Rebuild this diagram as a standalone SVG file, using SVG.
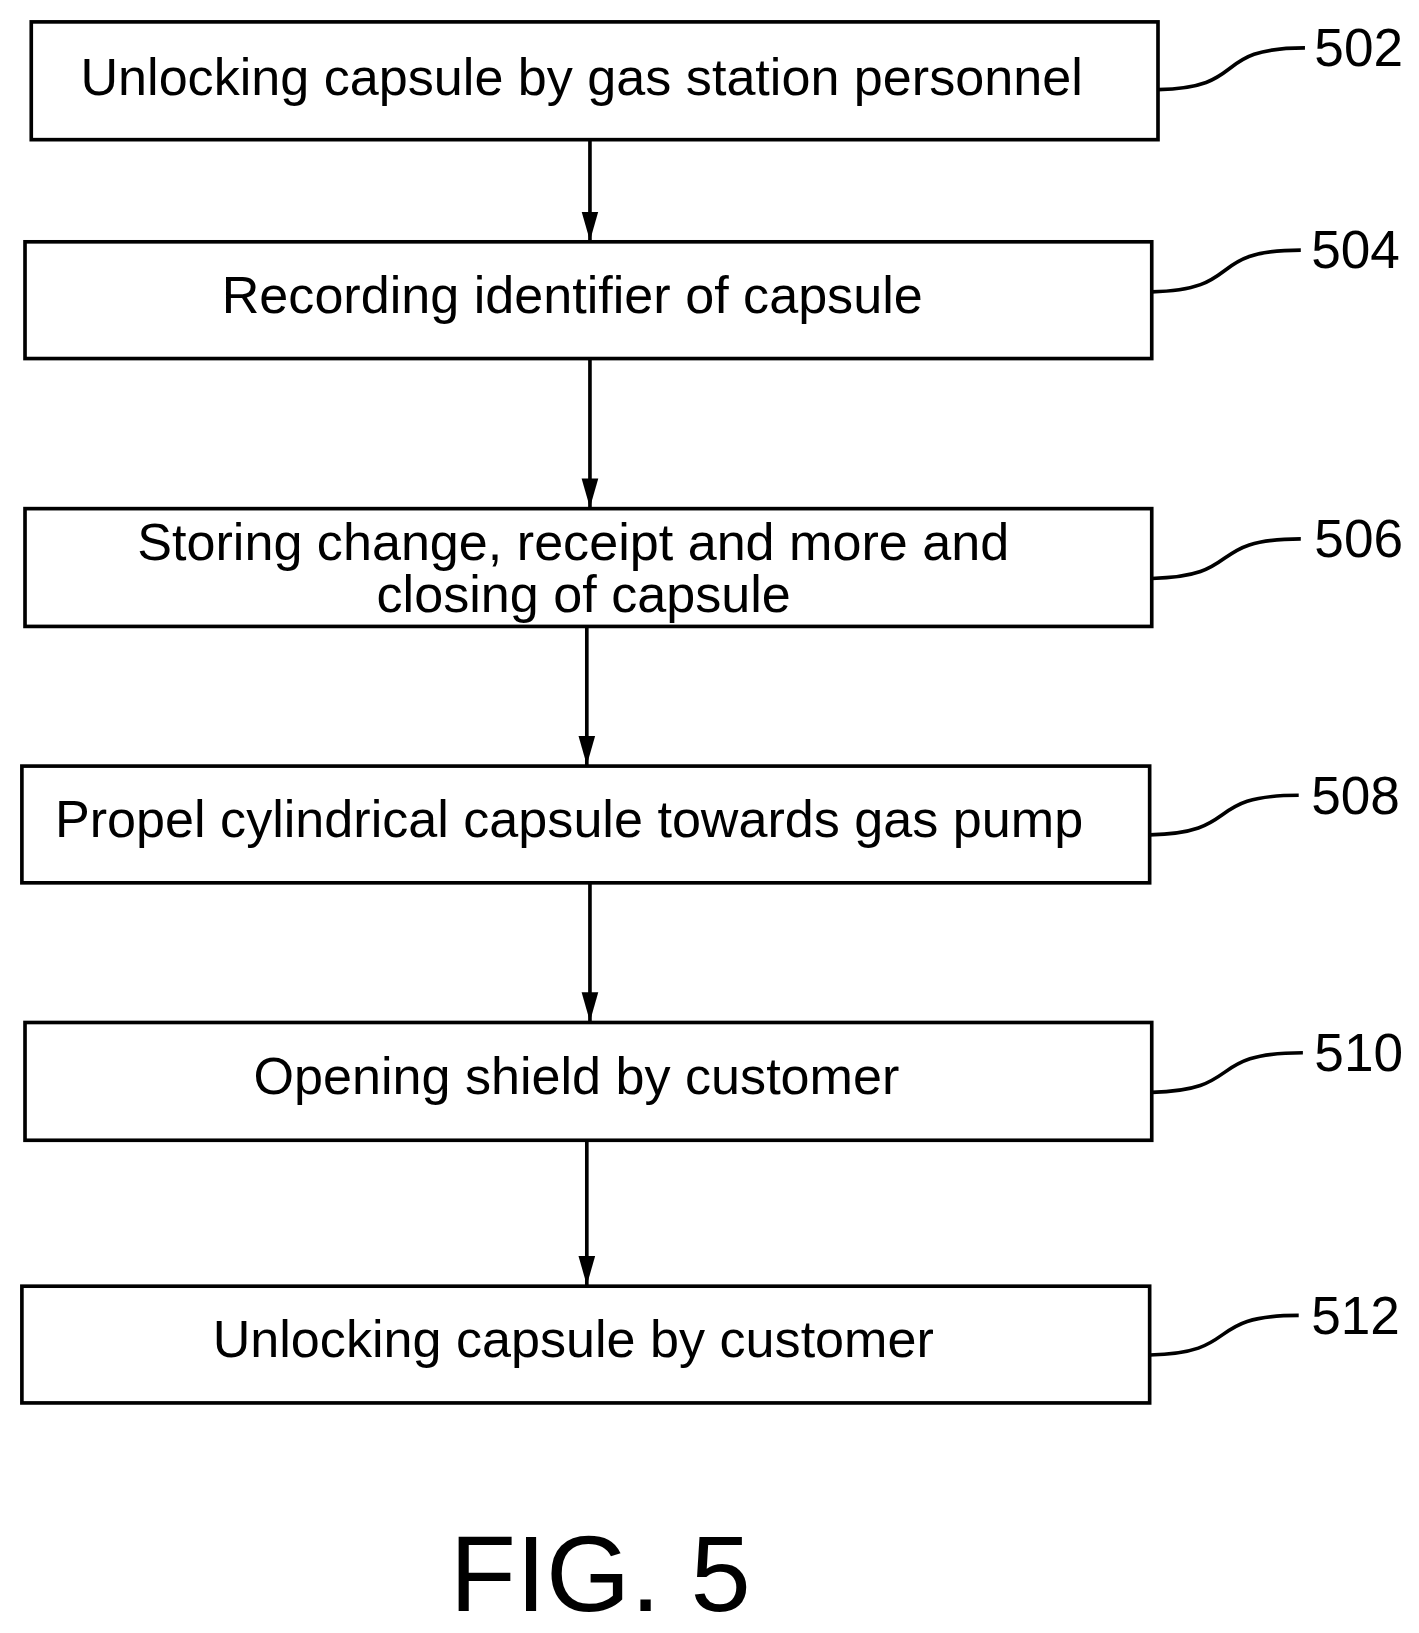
<svg xmlns="http://www.w3.org/2000/svg" width="1419" height="1633" viewBox="0 0 1419 1633">
<style>
.b{fill:#fff;stroke:#000;stroke-width:3.5}
.t{font-family:"Liberation Sans",Arial,sans-serif;font-size:50px;text-anchor:middle}
.n{font-family:"Liberation Sans",Arial,sans-serif;font-size:51px}
.c{fill:none;stroke:#000;stroke-width:3.5}
</style>
<defs><marker id="a" markerWidth="30" markerHeight="18" refX="28" refY="8" orient="auto" markerUnits="userSpaceOnUse" viewBox="0 0 30 16"><path d="M0,0 L28,8 L0,16 Z"/></marker></defs>
<rect width="1419" height="1633" fill="#fff"/>
<g transform="scale(1.0423)">
<g id="connectors">
<line class="c" x1="566" y1="134" x2="566" y2="231" marker-end="url(#a)"/>
<line class="c" x1="566" y1="344" x2="566" y2="487" marker-end="url(#a)"/>
<line class="c" x1="563" y1="601" x2="563" y2="734" marker-end="url(#a)"/>
<line class="c" x1="566" y1="847" x2="566" y2="980" marker-end="url(#a)"/>
<line class="c" x1="563" y1="1094" x2="563" y2="1233" marker-end="url(#a)"/>
<path class="c" d="M1111,86 C1200,84 1160,46 1252,46"/>
<path class="c" d="M1105,280 C1195,278 1155,240 1248,240"/>
<path class="c" d="M1105,555 C1195,553 1155,517 1248,517"/>
<path class="c" d="M1103,801 C1193,799 1153,763 1246,763"/>
<path class="c" d="M1105,1048 C1195,1046 1155,1010 1250,1010"/>
<path class="c" d="M1103,1300 C1193,1298 1153,1262 1246,1262"/>
</g>
<g id="n502"><rect class="b" x="30" y="21" width="1081" height="113"/><text class="t" x="558" y="91">Unlocking capsule by gas station personnel</text><text class="n" x="1261" y="63">502</text></g>
<g id="n504"><rect class="b" x="24" y="232" width="1081" height="112"/><text class="t" x="549" y="300">Recording identifier of capsule</text><text class="n" x="1258" y="257">504</text></g>
<g id="n506"><rect class="b" x="24" y="488" width="1081" height="113"/><text class="t" x="550" y="537">Storing change, receipt and more and</text><text class="t" x="560" y="587">closing of capsule</text><text class="n" x="1261" y="534">506</text></g>
<g id="n508"><rect class="b" x="21" y="735" width="1082" height="112"/><text class="t" x="546" y="803">Propel cylindrical capsule towards gas pump</text><text class="n" x="1258" y="781">508</text></g>
<g id="n510"><rect class="b" x="24" y="981" width="1081" height="113"/><text class="t" x="553" y="1050">Opening shield by customer</text><text class="n" x="1261" y="1028">510</text></g>
<g id="n512"><rect class="b" x="21" y="1234" width="1082" height="112"/><text class="t" x="550" y="1302">Unlocking capsule by customer</text><text class="n" x="1258" y="1280">512</text></g>
<text x="576" y="1546" style="font-family:'Liberation Sans',Arial,sans-serif;font-size:104px;text-anchor:middle">FIG. 5</text>
</g>
</svg>
